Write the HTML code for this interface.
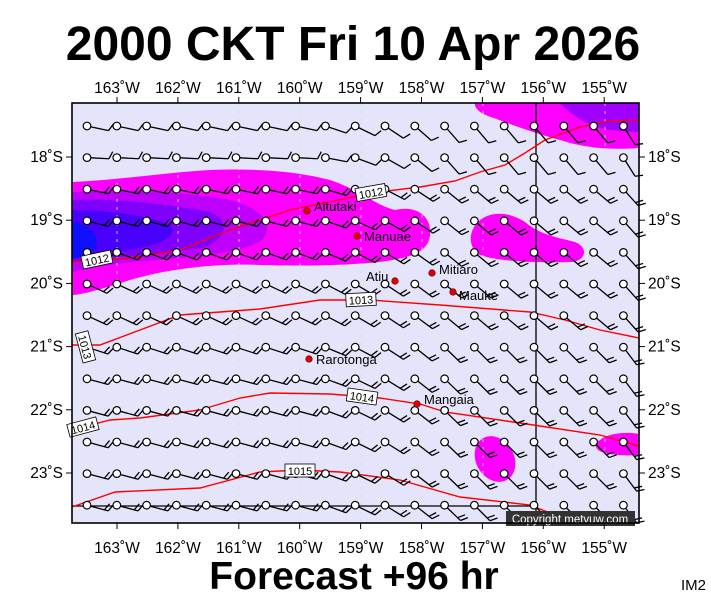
<!DOCTYPE html>
<html><head><meta charset="utf-8"><style>
body{margin:0;background:#fff;width:711px;height:600px;overflow:hidden;font-family:"Liberation Sans",sans-serif}
</style></head><body>
<svg id="s" width="711" height="600" viewBox="0 0 711 600" xmlns="http://www.w3.org/2000/svg" font-family="Liberation Sans, sans-serif">
<text x="353" y="60" text-anchor="middle" font-size="48" font-weight="bold">2000 CKT Fri 10 Apr 2026</text>
<rect x="72" y="103" width="567" height="420" fill="#e4e4fa"/>
<g>
<path d="M72,182 C120,180 170,172 210,170 C260,168 300,172 330,180 C360,190 375,205 395,210 C415,205 432,215 430,235 C428,255 405,258 380,262 C340,266 300,266 260,265 C220,263 170,268 130,280 C100,290 80,295 72,295 Z" fill="#ff00ff"/>
<path d="M72,192 C120,190 180,190 230,200 C262,208 275,225 262,240 C240,255 180,258 130,262 C100,266 80,270 72,272 Z" fill="#c000ff"/>
<path d="M72,200 C110,198 170,204 210,212 C230,220 228,238 205,247 C170,254 120,256 72,262 Z" fill="#8000ff"/>
<path d="M72,210 C110,210 150,216 170,225 C180,236 160,245 130,250 C100,254 80,256 72,258 Z" fill="#4a00ff"/>
<path d="M72,222 C90,224 100,236 96,248 C90,256 80,258 72,259 Z" fill="#1010ff"/>
<path d="M478,222 C490,210 510,212 525,222 C540,235 560,238 575,242 C590,248 585,262 570,262 C540,263 500,262 480,255 C468,248 468,232 478,222 Z" fill="#ff00ff"/>
<path d="M475,103 L639,103 L639,148 C610,150 585,148 560,140 C530,132 505,122 488,116 C478,112 474,107 475,103 Z" fill="#ff00ff"/>
<path d="M560,103 L639,103 L639,132 C620,132 600,130 585,122 C572,115 565,108 560,103 Z" fill="#a000ff"/>
<ellipse cx="495" cy="459" rx="19" ry="24" transform="rotate(-30 495 459)" fill="#ff00ff"/>
<path d="M600,440 C610,432 630,432 639,434 L639,455 C625,456 605,455 598,450 C594,446 596,442 600,440 Z" fill="#ff00ff"/>
</g>
<g stroke="#dcdcf0" stroke-width="0.8" stroke-dasharray="3,5">
<line x1="117" y1="103" x2="117" y2="523"/><line x1="178" y1="103" x2="178" y2="523"/><line x1="239" y1="103" x2="239" y2="523"/><line x1="300" y1="103" x2="300" y2="523"/><line x1="361" y1="103" x2="361" y2="523"/><line x1="422" y1="103" x2="422" y2="523"/><line x1="483" y1="103" x2="483" y2="523"/><line x1="605" y1="103" x2="605" y2="523"/>
</g>
<line x1="536" y1="103" x2="536" y2="523" stroke="#000" stroke-width="1.3"/>
<line x1="72" y1="506" x2="536" y2="506" stroke="#000" stroke-width="1.3"/>
<g fill="none" stroke="#ff0000" stroke-width="1.4">
<polyline points="72,262 130,258 180,250 230,230 290,210 330,202 370,193 420,187 455,181 480,172 505,165 525,153 545,140 580,127 610,121 639,120"/>
<polyline points="72,345 100,345 140,330 180,315 260,309 320,300 370,300 440,305 530,312 565,320 600,330 639,338"/>
<polyline points="72,430 110,420 140,418 200,410 240,398 270,393 330,394 380,398 420,404 445,412 520,423 600,435 639,446"/>
<polyline points="72,507 115,492 200,488 260,472 300,470 340,472 400,480 460,497 530,505 555,515 575,523"/>
</g>
<g id="barbs"></g>
<g fill="#fff" stroke="#000" stroke-width="0.8" font-size="11">
<g transform="rotate(-12 97 260)"><rect x="82" y="253" width="30" height="13"/><text x="97" y="264" text-anchor="middle" fill="#000" stroke="none">1012</text></g>
<g transform="rotate(-10 371 193)"><rect x="356" y="186" width="30" height="13"/><text x="371" y="197" text-anchor="middle" fill="#000" stroke="none">1012</text></g>
<g transform="rotate(75 85 347)"><rect x="70" y="340" width="30" height="13"/><text x="85" y="351" text-anchor="middle" fill="#000" stroke="none">1013</text></g>
<g transform="rotate(-3 361 300)"><rect x="346" y="293" width="30" height="13"/><text x="361" y="304" text-anchor="middle" fill="#000" stroke="none">1013</text></g>
<g transform="rotate(-15 85 427)"><rect x="68" y="420" width="30" height="13"/><text x="83" y="431" text-anchor="middle" fill="#000" stroke="none">1014</text></g>
<g transform="rotate(8 362 397)"><rect x="347" y="390" width="30" height="13"/><text x="362" y="401" text-anchor="middle" fill="#000" stroke="none">1014</text></g>
<g><rect x="285" y="464" width="30" height="13"/><text x="300" y="475" text-anchor="middle" fill="#000" stroke="none">1015</text></g>
</g>
<g fill="#e00000" stroke="#600" stroke-width="0.6">
<circle cx="307" cy="211" r="3.3"/><circle cx="357" cy="236" r="3.3"/><circle cx="432" cy="273" r="3.3"/><circle cx="395" cy="281" r="3.3"/><circle cx="453" cy="292" r="3.3"/><circle cx="309" cy="359" r="3.3"/><circle cx="417" cy="404" r="3.3"/>
</g>
<g font-size="13" fill="#000">
<text x="314" y="211">Aitutaki</text><text x="364" y="241">Manuae</text><text x="439" y="274">Mitiaro</text><text x="366" y="281">Atiu</text><text x="459" y="300">Mauke</text><text x="316" y="364">Rarotonga</text><text x="424" y="404">Mangaia</text>
</g>
<rect x="506" y="511" width="129" height="15" fill="#333"/>
<text x="570" y="523" text-anchor="middle" font-size="11.5" fill="#fff">Copyright metvuw.com</text>
<rect x="72" y="103" width="567" height="420" fill="none" stroke="#000" stroke-width="1.6"/>
<g id="ax" font-size="15.5" fill="#000"></g>
<text x="354" y="589" text-anchor="middle" font-size="39" font-weight="bold">Forecast +96 hr</text>
<text x="681" y="590" font-size="15">IM2</text>
</svg>
<script>
var NS="http://www.w3.org/2000/svg";
function el(p,t,a){var e=document.createElementNS(NS,t);for(var k in a)e.setAttribute(k,a[k]);p.appendChild(e);return e;}
var g=document.getElementById("barbs");
var rowsW=[12,3,12,15,20,25,25,18,15,15,15,15,15];
var rowsE=[50,50,40,40,40,40,40,45,45,45,45,45,45];
for(var r=0;r<13;r++){var cy=126+r*31.6;
 for(var c=0;c<19;c++){var cx=87+c*29.8;
  var t=Math.min(1,Math.max(0,(cx-300)/150));
  var a=rowsW[r]+(rowsE[r]-rowsW[r])*t; if(c==18)a+=8;
  var ar=a*Math.PI/180,L=22;
  var x1=cx+4*Math.cos(ar),y1=cy+4*Math.sin(ar),x2=cx+L*Math.cos(ar),y2=cy+L*Math.sin(ar);
  var s="M"+x1+","+y1+"L"+x2+","+y2;
  var nb=(r<2)?1:2;
  for(var b=0;b<nb;b++){var bx=x2-b*4*Math.cos(ar),by=y2-b*4*Math.sin(ar);
   var ba=(a-65)*Math.PI/180;
   s+="M"+bx+","+by+"L"+(bx+8*Math.cos(ba))+","+(by+8*Math.sin(ba));}
  el(g,"path",{d:s,stroke:"#000","stroke-width":1.3,fill:"none"});
  el(g,"circle",{cx:cx,cy:cy,r:3.8,fill:"#fff",stroke:"#000","stroke-width":1.2});
 }}
var ax=document.getElementById("ax");
var lons=[163,162,161,160,159,158,157,156,155];
for(var i=0;i<9;i++){var x=117+i*60.9;
 el(ax,"line",{x1:x,y1:97,x2:x,y2:103,stroke:"#000"});el(ax,"line",{x1:x,y1:523,x2:x,y2:529,stroke:"#000"});
 var t1=el(ax,"text",{x:x,y:93,"text-anchor":"middle"});t1.textContent=lons[i]+"˚W";
 var t2=el(ax,"text",{x:x,y:553,"text-anchor":"middle"});t2.textContent=lons[i]+"˚W";}
for(var j=0;j<6;j++){var y=157+j*63.2;
 el(ax,"line",{x1:66,y1:y,x2:72,y2:y,stroke:"#000"});el(ax,"line",{x1:639,y1:y,x2:645,y2:y,stroke:"#000"});
 var t3=el(ax,"text",{x:63,y:y+5,"text-anchor":"end"});t3.textContent=(18+j)+"˚S";
 var t4=el(ax,"text",{x:648,y:y+5});t4.textContent=(18+j)+"˚S";}
</script>
</body></html>
